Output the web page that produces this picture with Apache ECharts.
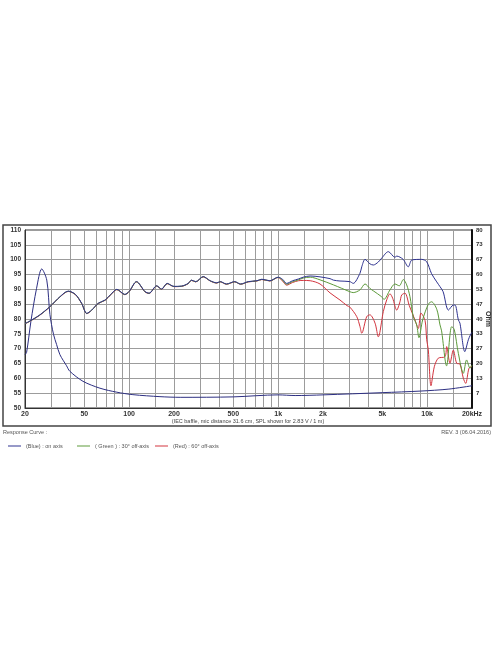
<!DOCTYPE html>
<html>
<head>
<meta charset="utf-8">
<script src="https://cdn.jsdelivr.net/npm/echarts@6/dist/echarts.min.js"></script>
<style>
html,body{margin:0;padding:0;background:#fff;}
#c{width:496px;height:664px;}
</style>
</head>
<body>
<div id="c"></div>
<script>
// ---- data (frequency in Hz, SPL in dB, impedance in Ohm) ----
const xLabelValues = [20, 50, 100, 200, 500, 1000, 2000, 5000, 10000, 20000];
const xGridValues = [20,30,40,50,60,70,80,90,100,150,200,300,400,500,600,700,800,900,
  1000,1500,2000,3000,4000,5000,6000,7000,8000,9000,10000,15000,20000];

const lowFreq = [20,21,25,29.4,34.3,39,43.6,48,52,56,62,69,75,82.7,93.5,100,112,128,136,153,165,180,200,225,249,262,280,314,350,387,409,450,511,560,630,720,778,880,1000,1070,1140,1250,1370];
const lowSpl  = [78.5,79,81.3,84.2,87.5,89.4,88.3,85.3,81.9,83,85.3,86.4,88.2,90,88.3,89.3,92.6,89.2,88.7,91.2,90.1,92,91,91.1,92,93.1,92.6,94.3,92.9,92.2,92.6,91.8,92.6,91.8,92.6,92.9,93.4,92.9,94.1,93.4,92.0,92.9,93.5];

const blueFreq = [1474,1640,1910,2230,2350,2600,3030,3190,3540,3640,3830,4130,4350,4700,4950,5490,6080,6250,6900,7470,7900,9180,9930,10700,11600,12200,12800,13900,15000,15400,16200,16600,17900,18900,19500,20000];
const blueSpl  = [94.1,94.5,94.2,93.6,93.1,92.8,92.6,92.0,95.4,97.6,100.1,98.6,98.2,99.2,100.5,102.7,100.8,101.2,100.1,97.6,99.9,100.1,99.3,95.3,92.5,90.9,89.2,83.0,84.7,84.7,79.7,78.6,69.0,73.0,74.6,75.5];

const greenFreq = [1474,1640,1910,2350,3030,3190,3540,3830,4130,4350,4950,5130,5630,6080,6500,6920,7290,7670,8070,8510,8810,9330,10180,10700,11600,12200,12500,13500,14600,15200,16200,17500,18400,19400,20000];
const greenSpl  = [93.8,94.1,93.2,91.5,89.2,88.9,89.8,91.8,90.3,89.5,87.5,86.6,89.8,91.8,91.2,93.3,91.5,87.5,80.8,78.0,73.7,79.7,85.0,85.8,83.3,78.0,76.0,64.2,77.4,76.5,68.4,61.7,66.2,63.4,64.5];

const redFreq = [1474,1640,1910,2230,2600,2900,3030,3370,3540,3640,3930,4130,4470,4700,5080,5350,5630,5870,6250,6570,6750,7100,7590,8280,8720,9090,9680,9930,10180,10610,11170,11880,13180,13520,14230,14980,15780,16600,17500,18140,19100,20000];
const redSpl  = [93.0,92.9,91.8,88.8,86.4,84.5,84.0,80.8,77.5,75.2,80.8,81.4,78.6,74.0,82.5,86.4,88.5,87.0,83.0,85.8,88.1,88.7,84.5,79.7,76.8,82.0,79.5,73.0,69.6,57.5,63.9,66.8,67.3,70.7,65.1,69.5,65.1,64.8,60.0,58.3,63.4,64.0];

const impFreq = [20,20.5,21.9,23.9,25.9,28,29.4,31.1,32.6,34.3,38,40,49,63.7,82.7,106,161,220,500,1000,1300,2000,5000,9000,14000,20000];
const impOhm  = [24,25,38.8,53.7,62.5,57.5,42,33,28.5,24,19,16.5,12,8.9,7.1,6.0,5.1,4.8,5.0,5.9,5.6,5.9,6.9,7.6,8.5,10];

const legendNames = ['(Blue) : on axis', '( Green ) : 30° off-axis', '(Red) : 60° off-axis'];

function pairs(fs, vs){ return fs.map((f,i)=>[f, vs[i]]); }
const redData = pairs(lowFreq, lowSpl.map((v,i)=> v - (lowFreq[i] > 1000 ? 0.6 : 0.1))).concat(pairs(redFreq, redSpl));
const greenData = pairs(lowFreq, lowSpl.map((v,i)=> v - (lowFreq[i] > 1000 ? 0.3 : 0.05))).concat(pairs(greenFreq, greenSpl));
const blueData = pairs(lowFreq, lowSpl).concat(pairs(blueFreq, blueSpl));
const impData = pairs(impFreq, impOhm);

const FONT = 'Liberation Sans, Arial, sans-serif';
const chart = echarts.init(document.getElementById('c'), null, {renderer:'canvas'});
function fmtHz(v){
  if (v >= 20000) return '20kHz';
  if (v >= 1000) return (v/1000) + 'k';
  return String(v);
}
const legendBase = {top: 438, icon: 'rect', itemWidth: 13, itemHeight: 1, itemGap: 5,
  textStyle: {fontSize: 5.5, color: '#555', fontFamily: FONT}, selectedMode: false};
chart.setOption({
  backgroundColor: '#fff',
  animation: false,
  grid: {left: 25, right: 24, top: 230, bottom: 256, outerBoundsMode: 'none', containLabel: false,
    show: true, borderColor: '#333', borderWidth: 1, backgroundColor: '#fff'},
  xAxis: {
    type: 'log', logBase: 10, min: 20, max: 20000,
    axisLine: {show: true, lineStyle: {color: '#333', width: 1}},
    axisTick: {show: false, customValues: xGridValues},
    splitLine: {show: true, lineStyle: {color: '#9c9c9c', width: 1}},
    minorSplitLine: {show: false},
    axisLabel: {customValues: xLabelValues, formatter: fmtHz, fontSize: 7, fontWeight: 'bold', color: '#333', fontFamily: FONT, margin: 3}
  },
  yAxis: [
    {
      type: 'value', min: 50, max: 110, interval: 5, position: 'left',
      name: 'dB', nameLocation: 'middle', nameGap: 15, nameRotate: 90,
      nameTextStyle: {fontSize: 7, fontWeight: 'bold', color: '#333', fontFamily: FONT},
      axisLine: {show: true, lineStyle: {color: '#333'}},
      axisTick: {show: false},
      splitLine: {show: true, lineStyle: {color: '#9c9c9c', width: 1}},
      axisLabel: {fontSize: 6.5, fontWeight: 'bold', color: '#333', fontFamily: FONT, margin: 4}
    },
    {
      type: 'value', min: 0, max: 80, interval: 80/12, position: 'right',
      axisLine: {show: true, lineStyle: {color: '#111', width: 2}},
      axisTick: {show: false},
      splitLine: {show: false},
      axisLabel: {fontSize: 6, fontWeight: 'bold', color: '#333', fontFamily: FONT, margin: 4,
        formatter: v => { const r = Math.round(v); return r === 0 ? '' : String(r); }}
    }
  ],
  legend: [
    Object.assign({data: [legendNames[0]], left: 3}, legendBase),
    Object.assign({data: [legendNames[1]], left: 72}, legendBase),
    Object.assign({data: [legendNames[2]], left: 150}, legendBase)
  ],
  graphic: [
    {type: 'rect', shape: {x: 3, y: 225, width: 488, height: 201}, style: {fill: 'none', stroke: '#444', lineWidth: 1.5}, silent: true, z: -1},
    {type: 'text', x: 488, y: 319, rotation: -Math.PI / 2,
      style: {text: 'Ohm', fontSize: 7, fontWeight: 'bold', fill: '#333', fontFamily: FONT, align: 'center', verticalAlign: 'middle'}},
    {type: 'text', left: 'center', top: 418, style: {text: '(IEC baffle, mic distance 31.6 cm, SPL shown for 2.83 V / 1 m)', fontSize: 5.5, fill: '#444', fontFamily: FONT}},
    {type: 'text', left: 3, top: 429, style: {text: 'Response Curve :', fontSize: 5.5, fill: '#555', fontFamily: FONT}},
    {type: 'text', right: 5, top: 429, style: {text: 'REV. 3 (06.04.2016)', fontSize: 5.5, fill: '#555', fontFamily: FONT}}
  ],
  series: [
    {name: 'Impedance', type: 'line', yAxisIndex: 1, data: impData, symbol: 'none', smooth: 0.3,
      lineStyle: {color: '#2d2f82', width: 1}, itemStyle: {color: '#2d2f82'}, z: 2},
    {name: legendNames[2], type: 'line', yAxisIndex: 0, data: redData, symbol: 'none', smooth: 0.3,
      lineStyle: {color: '#d2343e', width: 1}, itemStyle: {color: '#d2343e'}, z: 3},
    {name: legendNames[1], type: 'line', yAxisIndex: 0, data: greenData, symbol: 'none', smooth: 0.3,
      lineStyle: {color: '#5c9a3a', width: 1}, itemStyle: {color: '#5c9a3a'}, z: 4},
    {name: legendNames[0], type: 'line', yAxisIndex: 0, data: blueData, symbol: 'none', smooth: 0.3,
      lineStyle: {color: '#2f3390', width: 1}, itemStyle: {color: '#2f3390'}, z: 5}
  ]
});
</script>
</body>
</html>
